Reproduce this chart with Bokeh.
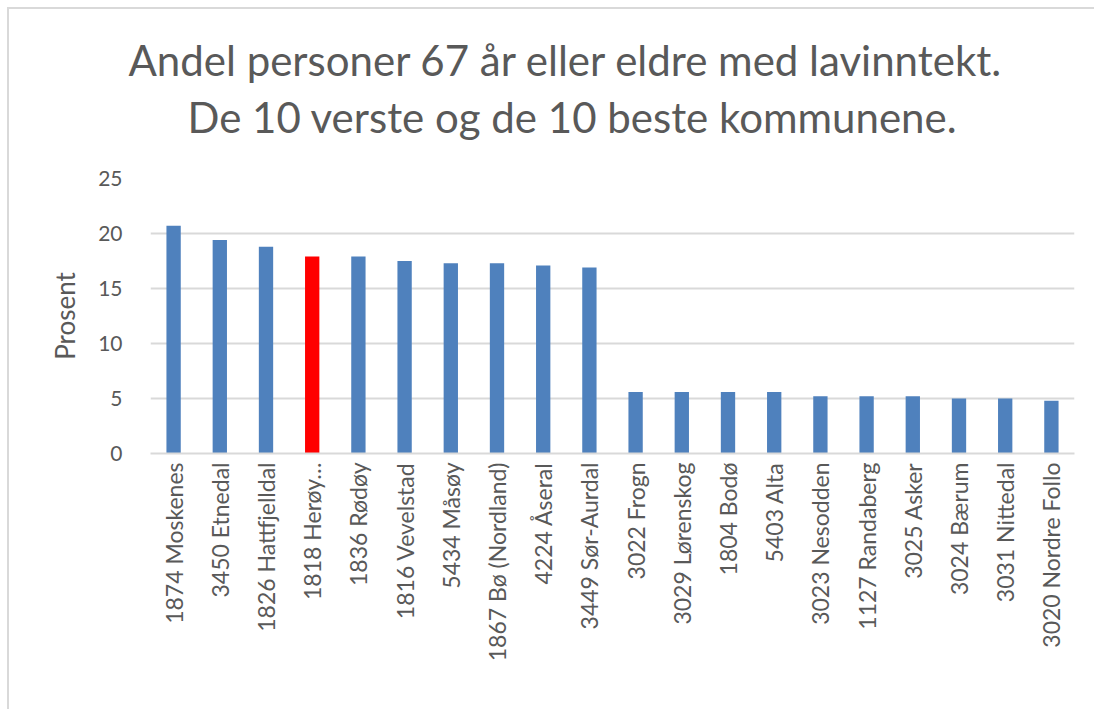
from bokeh.plotting import figure
from bokeh.models import ColumnDataSource, FactorRange, Range1d, FixedTicker, Title
from bokeh.embed import file_html
from bokeh.resources import INLINE
from math import pi

kommuner = ["1874 Moskenes", "3450 Etnedal", "1826 Hattfjelldal", "1818 Herøy…",
            "1836 Rødøy", "1816 Vevelstad", "5434 Måsøy", "1867 Bø (Nordland)",
            "4224 Åseral", "3449 Sør-Aurdal", "3022 Frogn", "3029 Lørenskog",
            "1804 Bodø", "5403 Alta", "3023 Nesodden", "1127 Randaberg",
            "3025 Asker", "3024 Bærum", "3031 Nittedal", "3020 Nordre Follo"]
prosent = [20.7, 19.4, 18.8, 17.9, 17.9, 17.5, 17.3, 17.3, 17.1, 16.9,
           5.6, 5.6, 5.6, 5.6, 5.2, 5.2, 5.2, 5.0, 5.0, 4.8]
farger = ["#4f81bd"] * 3 + ["#ff0000"] + ["#4f81bd"] * 16
y_ticks = [0, 5, 10, 15, 20, 25]
tittel = ["Andel personer 67 år eller eldre med lavinntekt.",
          "De 10 verste og de 10 beste kommunene."]

FONT = "Lato"
GREY = "#595959"
GRID = "#d9d9d9"

src = ColumnDataSource(dict(k=kommuner, v=prosent, c=farger))

p = figure(x_range=FactorRange(*kommuner), y_range=Range1d(0, 25),
           width=1087, height=702, output_backend="svg", toolbar_location=None,
           min_border_left=141, min_border_right=22, min_border_top=169,
           min_border_bottom=258)
p.margin = (7, 0, 0, 7)
p.styles = {"border-top": f"2px solid {GRID}", "border-left": f"2px solid {GRID}"}
p.outline_line_color = None

p.vbar(x="k", top="v", width=0.31, fill_color="c", line_color=None, source=src)

p.xgrid.grid_line_color = None
p.ygrid.grid_line_color = GRID
p.ygrid.grid_line_width = 2
p.yaxis.ticker = FixedTicker(ticks=y_ticks)
p.yaxis.axis_line_color = None
p.yaxis.major_tick_line_color = None
p.yaxis.minor_tick_line_color = None
p.yaxis.major_label_standoff = 22
p.yaxis.major_label_text_font = FONT
p.yaxis.major_label_text_font_size = "21px"
p.yaxis.major_label_text_color = GREY
p.yaxis.axis_label = "Prosent"
p.yaxis.axis_label_text_font = FONT
p.yaxis.axis_label_text_font_size = "26px"
p.yaxis.axis_label_text_font_style = "normal"
p.yaxis.axis_label_text_color = GREY
p.yaxis.axis_label_standoff = 14

p.xaxis.axis_line_color = GRID
p.xaxis.axis_line_width = 2
p.xaxis.major_tick_line_color = None
p.xaxis.minor_tick_line_color = None
p.xaxis.major_label_orientation = pi / 2
p.xaxis.major_label_standoff = 3
p.xaxis.major_label_text_font = FONT
p.xaxis.major_label_text_font_size = "23px"
p.xaxis.major_label_text_color = GREY

# spacer nearest the frame, then title line 2, then title line 1
p.add_layout(Title(text=" ", text_font=FONT, text_font_size="20px", standoff=11), "above")
p.add_layout(Title(text=tittel[1], align="left", offset=37, text_font=FONT,
                   text_font_size="42px", text_font_style="normal",
                   text_color=GREY, standoff=0), "above")
p.add_layout(Title(text=tittel[0], align="left", offset=-22, text_font=FONT,
                   text_font_size="42px", text_font_style="normal",
                   text_color=GREY, standoff=10), "above")

open("out.html", "w").write(file_html(p, INLINE))
